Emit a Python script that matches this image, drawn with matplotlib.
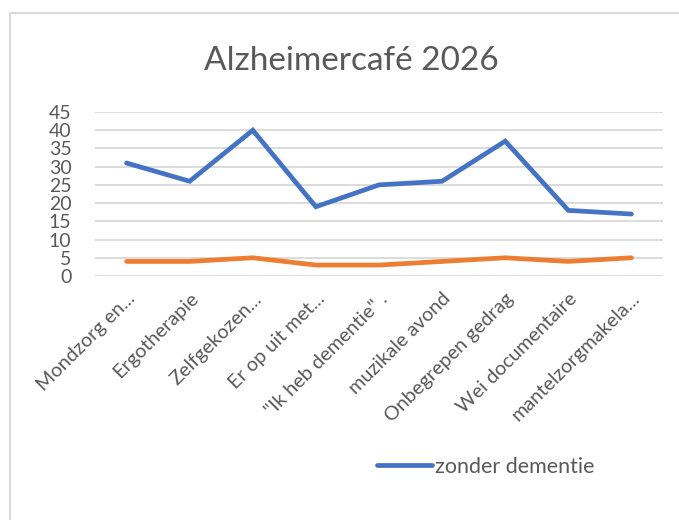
import matplotlib
matplotlib.use("Agg")
import matplotlib.pyplot as plt
from matplotlib.patches import Rectangle

categories = ["Mondzorg en...", "Ergotherapie", "Zelfgekozen...", "Er op uit met...",
              "\"Ik heb dementie\" .", "muzikale avond", "Onbegrepen gedrag",
              "Wei documentaire", "mantelzorgmakela..."]
zonder_dementie = [31, 26, 40, 19, 25, 26, 37, 18, 17]
met_dementie = [4, 4, 5, 3, 3, 4, 5, 4, 5]
yticks = [0, 5, 10, 15, 20, 25, 30, 35, 40, 45]
title = "Alzheimercafé 2026"

plt.rcParams['font.family'] = ['Lato', 'DejaVu Sans']
txt = '#595959'

fig = plt.figure(figsize=(6.79, 5.2), dpi=100)
fig.patches.append(Rectangle((10/679, -0.01), 1.0, (520-13)/520 + 0.01,
                             transform=fig.transFigure, fill=False,
                             edgecolor='#D9D9D9', linewidth=1.5))

ax = fig.add_axes([95/679, (520-276)/520, (663-95)/679, (276-112)/520])
x = list(range(len(categories)))
ax.plot(x, zonder_dementie, color='#4472C4', lw=3.4, solid_capstyle='round',
        solid_joinstyle='miter', label='zonder dementie', zorder=3)
ax.plot(x, met_dementie, color='#ED7D31', lw=3.4, solid_capstyle='round',
        solid_joinstyle='miter', zorder=3)

ax.set_xlim(-0.5, len(categories) - 0.5)
ax.set_ylim(0, 45)
ax.set_yticks(yticks)
ax.set_yticklabels([str(v) for v in yticks], color=txt, fontsize=14)
ax.tick_params(axis='y', length=0, pad=17)
ax.set_xticks(x)
ax.set_xticklabels(categories, rotation=45, ha='right', va='top',
                   rotation_mode='anchor', color=txt, fontsize=14.3)
ax.tick_params(axis='x', length=0, pad=10)
ax.grid(axis='y', color='#D9D9D9', linewidth=1.3, zorder=0)
for s in ax.spines.values():
    s.set_visible(False)
ax.set_axisbelow(True)

fig.text(351/679, 1 - 61/520, title, ha='center', va='center',
         fontsize=24, color=txt)

h, l = ax.get_legend_handles_labels()
fig.legend(h, l, loc='center', bbox_to_anchor=(486/679, 1 - 467/520),
           frameon=False, fontsize=15.5, labelcolor=txt, handlelength=2.55,
           handletextpad=0.15)

fig.savefig("out.png", dpi=100)
